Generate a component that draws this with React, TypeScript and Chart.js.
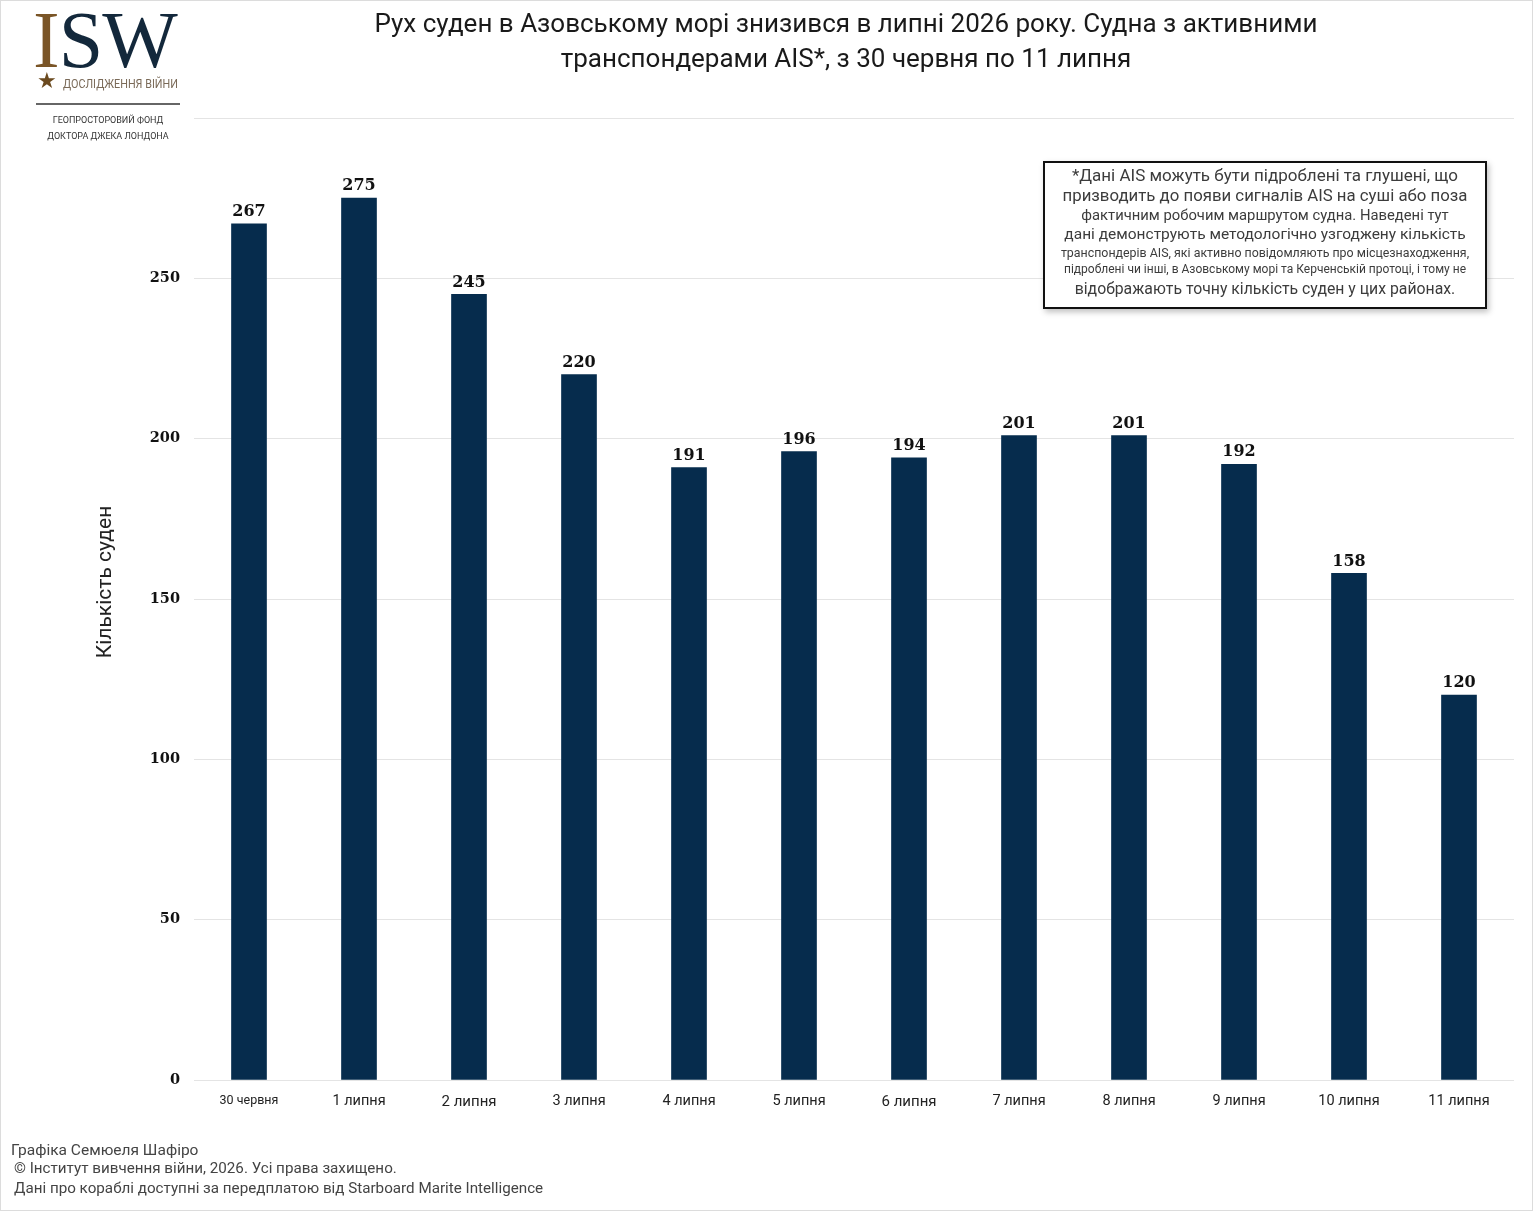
import React, { useEffect, useRef } from "react";
import { Chart, registerables } from "chart.js";

Chart.register(...registerables);

const categories = [
  "30 червня", "1 липня", "2 липня", "3 липня", "4 липня", "5 липня",
  "6 липня", "7 липня", "8 липня", "9 липня", "10 липня", "11 липня",
];
const vesselCounts = [267, 275, 245, 220, 191, 196, 194, 201, 201, 192, 158, 120];
const yTicks = [0, 50, 100, 150, 200, 250];

const titleLines = [
  "Рух суден в Азовському морі знизився в липні 2026 року. Судна з активними",
  "транспондерами AIS*, з 30 червня по 11 липня",
];
const yAxisTitle = "Кількість суден";
const noteLines = [
  "*Дані AIS можуть бути підроблені та глушені, що",
  "призводить до появи сигналів AIS на суші або поза",
  "фактичним робочим маршрутом судна. Наведені тут",
  "дані демонструють методологічно узгоджену кількість",
  "транспондерів AIS, які активно повідомляють про місцезнаходження,",
  "підроблені чи інші, в Азовському морі та Керченській протоці, і тому не",
  "відображають точну кількість суден у цих районах.",
];
const footerLines = [
  "Графіка Семюеля Шафіро",
  "\u00a9 Інститут вивчення війни, 2026. Усі права захищено.",
  "Дані про кораблі доступні за передплатою від Starboard Marite Intelligence",
];

const W = 1536;
const H = 1212;

const valueLabels = {
  id: "valueLabels",
  afterDatasetsDraw(chart: any) {
    const ctx = chart.ctx;
    const meta = chart.getDatasetMeta(0);
    ctx.save();
    ctx.font = 'bold 16px "DejaVu Serif"';
    ctx.fillStyle = "#111";
    ctx.textAlign = "center";
    ctx.textBaseline = "bottom";
    meta.data.forEach((bar: any, i: number) => {
      ctx.fillText(String(vesselCounts[i]), bar.x, bar.y - 4);
    });
    ctx.restore();
  },
};

export default function App() {
  const ref = useRef<HTMLCanvasElement>(null);

  useEffect(() => {
    document.body.style.margin = "0";
    if (!ref.current) return;
    const chart = new Chart(ref.current, {
      type: "bar",
      data: {
        labels: categories,
        datasets: [
          {
            data: vesselCounts,
            backgroundColor: "#062c4d",
            barThickness: 35,
          },
        ],
      },
      options: {
        animation: false,
        responsive: false,
        layout: { padding: { top: 118, right: 22, bottom: 0, left: 0 } },
        plugins: {
          legend: { display: false },
          tooltip: { enabled: false },
        },
        scales: {
          x: {
            grid: { display: false },
            border: { display: false },
            ticks: {
              padding: 5,
              color: "#222",
              maxRotation: 0,
              font: (c: any) => ({
                family: "Roboto",
                size: c.index === 0 ? 12.5 : c.index === 2 || c.index === 6 ? 15 : 14.5,
              }),
            },
            afterFit: (s: any) => {
              s.height = H - 1080;
            },
          },
          y: {
            min: 0,
            max: 300,
            afterBuildTicks: (s: any) => {
              s.ticks = [...yTicks, 300].map((v) => ({ value: v }));
            },
            grid: { color: "#e4e4e4", lineWidth: 1, drawTicks: false },
            border: { display: false },
            ticks: {
              padding: 14,
              color: "#111",
              font: { family: "DejaVu Serif", weight: "bold", size: 14.5 },
              callback: (v: any) => (yTicks.includes(Number(v)) ? String(v) : ""),
            },
            afterFit: (s: any) => {
              s.width = 194;
            },
          },
        },
      },
      plugins: [valueLabels],
    } as any);
    return () => chart.destroy();
  }, []);

  const noteTops = [175, 195, 215, 234, 253, 269, 289];
  const noteSizes = [17, 16.8, 14.8, 15.5, 12.4, 12, 15.8];

  return (
    <div style={{ position: "relative", width: W, height: H, overflow: "hidden", background: "#fff", fontFamily: "Roboto" }}>
      <canvas ref={ref} width={W} height={H} style={{ position: "absolute", left: 0, top: 0, width: W, height: H }} />
      {/* page frame */}
      <div style={{ position: "absolute", left: 0, top: 0, width: 1533, height: 1211, border: "1.5px solid #dcdcdc", boxSizing: "border-box", pointerEvents: "none" }} />

      {/* y axis title */}
      <div style={{ position: "absolute", left: 104, top: 582, transform: "translate(-50%, -50%) rotate(-90deg)", fontSize: 21, lineHeight: "24px", color: "#222", whiteSpace: "nowrap" }}>
        {yAxisTitle}
      </div>

      {/* logo */}
      <div style={{ position: "absolute", left: 33, top: 0, height: 80, fontFamily: "Liberation Serif", fontSize: 80, lineHeight: "80px", color: "#13283b", whiteSpace: "nowrap", letterSpacing: -1 }}>
        <span style={{ color: "#7a5527" }}>I</span>SW
      </div>
      <div style={{ position: "absolute", left: 37, top: 69, fontSize: 22, lineHeight: "24px", color: "#6b4a1f" }}>★</div>
      <div style={{ position: "absolute", left: 63, top: 77, fontSize: 12, lineHeight: "14px", color: "#7a6a58", whiteSpace: "nowrap", transform: "scaleX(0.9)", transformOrigin: "left" }}>
        ДОСЛІДЖЕННЯ ВІЙНИ
      </div>
      <div style={{ position: "absolute", left: 36, top: 103, width: 144, height: 1.5, background: "#666" }} />
      <div style={{ position: "absolute", left: 28, width: 160, top: 112, fontSize: 9, lineHeight: "16px", color: "#333", textAlign: "center", whiteSpace: "nowrap" }}>
        ГЕОПРОСТОРОВИЙ ФОНД
        <br />
        ДОКТОРА ДЖЕКА ЛОНДОНА
      </div>

      {/* title */}
      <div style={{ position: "absolute", left: 846, top: 6, transform: "translateX(-50%)", fontSize: 26, lineHeight: "35px", color: "#1a1a1a", textAlign: "center", whiteSpace: "nowrap" }}>
        {titleLines.map((l, i) => (
          <div key={i}>{l}</div>
        ))}
      </div>

      {/* note box */}
      <div style={{ position: "absolute", left: 1043, top: 161, width: 444, height: 148, border: "2px solid #111", boxSizing: "border-box", background: "#fff", boxShadow: "2px 3px 6px rgba(0,0,0,0.25)" }} />
      {noteLines.map((l, i) => (
        <div key={i} style={{ position: "absolute", left: 1045, width: 440, top: noteTops[i] - 10, height: 20, lineHeight: "20px", fontSize: noteSizes[i], color: "#3c3c3c", textAlign: "center", whiteSpace: "nowrap" }}>
          {l}
        </div>
      ))}

      {/* footer */}
      {footerLines.map((l, i) => (
        <div key={i} style={{ position: "absolute", left: i === 0 ? 11 : 14, top: [1150, 1168, 1188][i] - 10, lineHeight: "20px", fontSize: i === 0 ? 15.5 : 15.2, color: "#444", whiteSpace: "nowrap" }}>
          {l}
        </div>
      ))}
    </div>
  );
}
